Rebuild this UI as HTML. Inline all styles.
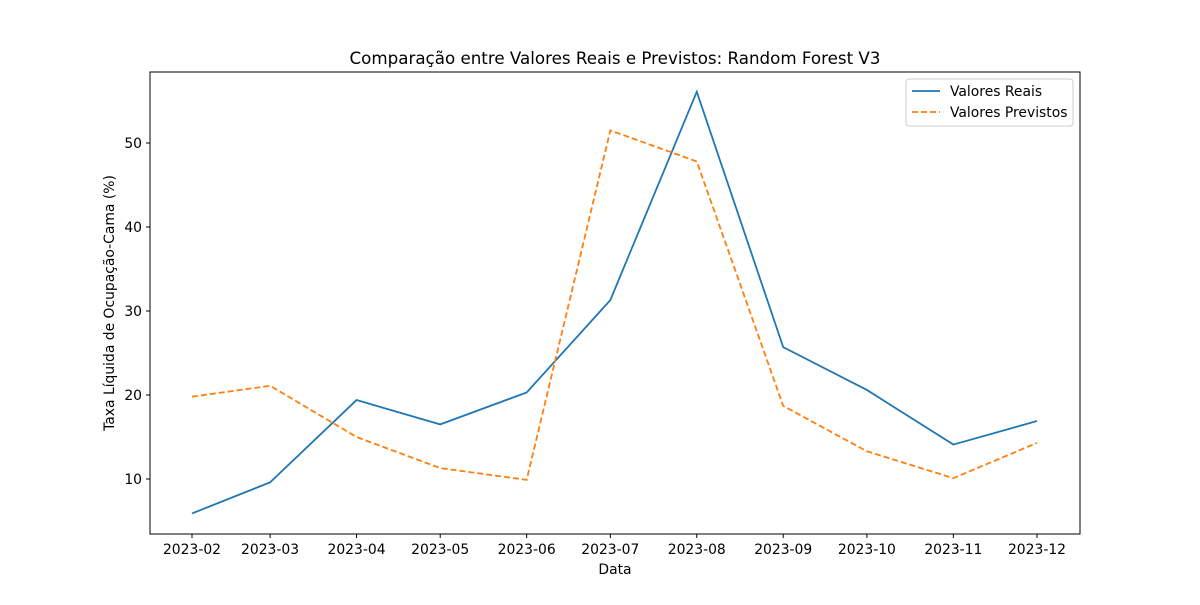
<!DOCTYPE html>
<html><head><meta charset="utf-8"><style>
body{margin:0;background:#fff;}
svg{font-family:"DejaVu Sans","Liberation Sans",sans-serif;}
</style></head><body>
<svg id="c" width="1200" height="600" xmlns="http://www.w3.org/2000/svg"></svg>
<script>
const categories=["2023-02","2023-03","2023-04","2023-05","2023-06","2023-07","2023-08","2023-09","2023-10","2023-11","2023-12"];
const realValues=[5.9,9.6,19.4,16.5,20.3,31.3,56.1,25.7,20.6,14.1,16.9];
const predValues=[19.8,21.1,15.0,11.3,9.9,51.5,47.8,18.7,13.3,10.1,14.3];
const yTicks=[10,20,30,40,50];
const NS="http://www.w3.org/2000/svg";
const svg=document.getElementById('c');
const L=150,R=1080,T=72,B=534;
function dayOff(c){const [y,m]=c.split('-').map(Number);return (Date.UTC(y,m-1,1)-Date.UTC(2023,1,1))/86400000;}
const dMax=dayOff(categories[categories.length-1]);
function xs(c){return 192+dayOff(c)*(1037-192)/dMax;}
function ys(v){return 479-(v-10)*8.4;}
function el(t,a,p){const e=document.createElementNS(NS,t);for(const k in a)e.setAttribute(k,a[k]);(p||svg).appendChild(e);return e;}
function txt(s,a){const e=el('text',a);e.textContent=s;return e;}
let f=el('rect',{x:L,y:T,width:R-L,height:B-T,fill:'none',stroke:'#000','stroke-width':1});


categories.forEach(c=>{const x=xs(c);
 el('line',{x1:x,x2:x,y1:B,y2:B+4,stroke:'#000'});
 const t=txt(c,{x:x,y:B+20,'text-anchor':'middle','font-size':13.9});
 
 
});
yTicks.forEach(v=>{const y=ys(v);
 el('line',{x1:L-4,x2:L,y1:y,y2:y,stroke:'#000'});
 const t=txt(String(v),{x:L-8,y:y+5,'text-anchor':'end','font-size':13.9});
 
 
});
let tt=txt('Comparação entre Valores Reais e Previstos: Random Forest V3',{x:615,y:64,'text-anchor':'middle','font-size':16.7});


let xt=txt('Data',{x:615,y:574,'text-anchor':'middle','font-size':13.9});


let yt=txt('Taxa Líquida de Ocupação-Cama (%)',{x:0,y:0,'text-anchor':'middle','font-size':13.9,transform:'translate(114,303) rotate(-90)'});


function line(vals,color,dash,name){
 const p=el('polyline',{points:vals.map((v,i)=>xs(categories[i])+','+ys(v)).join(' '),fill:'none',stroke:color,'stroke-width':1.8,'stroke-dasharray':dash||'none'});
 
 
}
line(realValues,'#1f77b4','', 'real-values-line');
line(predValues,'#ff7f0e','6,3','predicted-values-line');
const lg=el('rect',{x:906,y:79,width:167,height:47,fill:'#fff',stroke:'#ccc',rx:3});


el('line',{x1:912,x2:940,y1:91,y2:91,stroke:'#1f77b4','stroke-width':1.8});
el('line',{x1:912,x2:940,y1:112,y2:112,stroke:'#ff7f0e','stroke-width':1.8,'stroke-dasharray':'6,3'});
let l1=txt('Valores Reais',{x:950,y:96,'font-size':13.9});


let l2=txt('Valores Previstos',{x:950,y:117,'font-size':13.9});


</script>
</body></html>
